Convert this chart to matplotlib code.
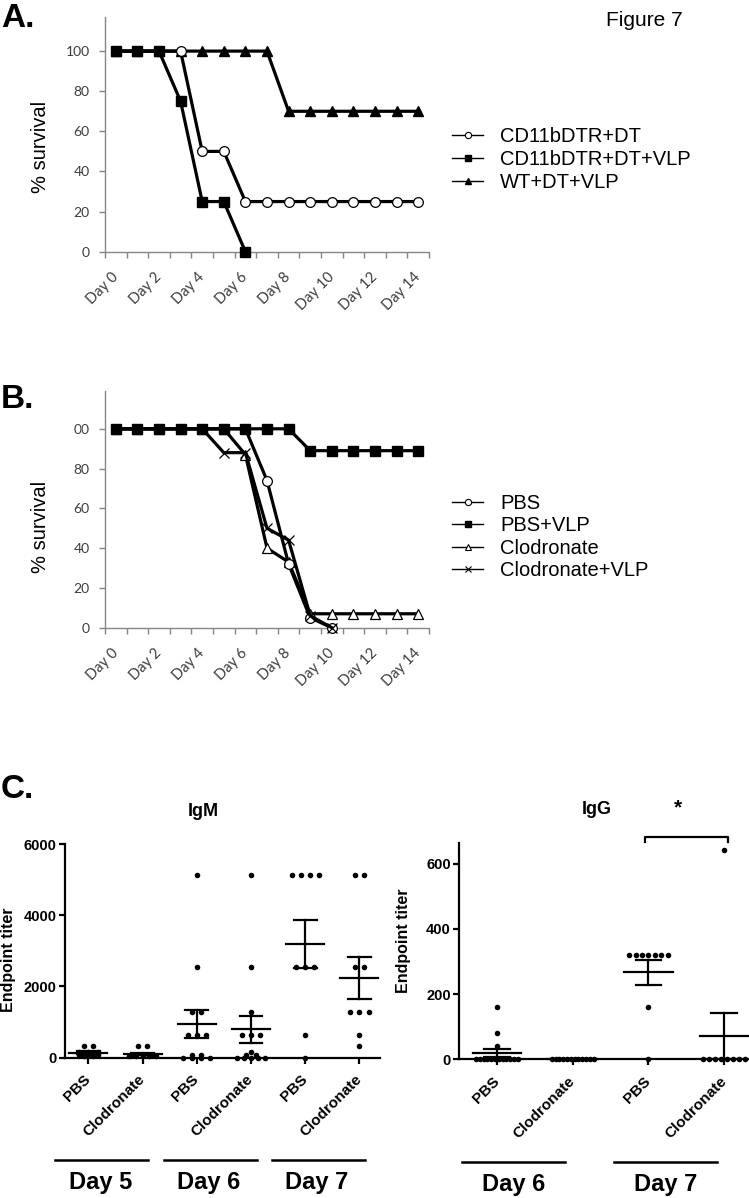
import numpy as np
import matplotlib
matplotlib.use("Agg")
import matplotlib.pyplot as plt
from matplotlib.lines import Line2D
from matplotlib.transforms import blended_transform_factory as blend

# ---------------- data ----------------
day_numbers = list(range(15))
day_tick_labels = ["Day 0", "Day 2", "Day 4", "Day 6", "Day 8", "Day 10", "Day 12", "Day 14"]

# Panel A (% survival)
a_cd11b_dt = [100, 100, 100, 100, 50, 50, 25, 25, 25, 25, 25, 25, 25, 25, 25]
a_cd11b_dt_vlp = [100, 100, 100, 75, 25, 25, 0]
a_wt_dt_vlp = [100, 100, 100, 100, 100, 100, 100, 100, 70, 70, 70, 70, 70, 70, 70]
a_labels = ["CD11bDTR+DT", "CD11bDTR+DT+VLP", "WT+DT+VLP"]

# Panel B (% survival)
b_pbs = [100, 100, 100, 100, 100, 100, 100, 74, 32, 5, 0]
b_pbs_vlp = [100, 100, 100, 100, 100, 100, 100, 100, 100, 89, 89, 89, 89, 89, 89]
b_clod = [100, 100, 100, 100, 100, 100, 87, 40, 33, 7, 7, 7, 7, 7, 7]
b_clod_vlp = [100, 100, 100, 100, 100, 88, 88, 50, 44, 6, 0]
b_labels = ["PBS", "PBS+VLP", "Clodronate", "Clodronate+VLP"]
b_ytick_labels = ["0", "20", "40", "60", "80", "00"]

# Panel C (endpoint titers)
igm_groups = ["PBS", "Clodronate", "PBS", "Clodronate", "PBS", "Clodronate"]
igm_days = ["Day 5", "Day 6", "Day 7"]
igm_d5_pbs = [320, 320, 160, 160, 160, 80, 80, 80, 40, 40]
igm_d5_clod = [320, 320, 80, 80, 80, 40, 40, 40, 40, 40]
igm_d6_pbs = [5120, 2560, 1280, 1280, 640, 640, 640, 80, 80, 0, 0, 0, 0]
igm_d6_clod = [5120, 2560, 1280, 640, 640, 640, 160, 80, 80, 0, 0, 0, 0, 0]
igm_d7_pbs = [5120, 5120, 5120, 5120, 2560, 2560, 2560, 640, 0]
igm_d7_clod = [5120, 5120, 2560, 2560, 1280, 1280, 1280, 640, 320]

igg_groups = ["PBS", "Clodronate", "PBS", "Clodronate"]
igg_days = ["Day 6", "Day 7"]
igg_d6_pbs = [160, 80, 40, 0, 0, 0, 0, 0, 0, 0, 0, 0, 0, 0, 0]
igg_d6_clod = [0, 0, 0, 0, 0, 0, 0, 0, 0, 0, 0, 0]
igg_d7_pbs = [320, 320, 320, 320, 320, 320, 320, 160, 0]
igg_d7_clod = [640, 0, 0, 0, 0, 0, 0, 0, 0]

# ---------------- figure ----------------
W, H = 749, 1198
fig = plt.figure(figsize=(W / 100, H / 100), dpi=100)


def fx(px):
    return px / W


def fy(py):
    return 1 - py / H


SANS = "Liberation Sans"
TICKF = "Lato"
GRAY = "#868686"
TXT = "#3c3c3c"


def survival_axes(rect, ymax, ytl):
    ax = fig.add_axes(rect)
    for s in ("top", "right"):
        ax.spines[s].set_visible(False)
    for s in ("left", "bottom"):
        ax.spines[s].set_color(GRAY)
        ax.spines[s].set_linewidth(1.0)
    ax.set_xlim(-0.5, 14.5)
    ax.set_ylim(0, ymax)
    ax.set_xticks(np.arange(-0.5, 15, 1))
    ax.set_xticklabels([])
    ax.tick_params(axis="x", which="major", length=4, width=1, color=GRAY, direction="out")
    ax.set_xticks(day_numbers[::2], day_tick_labels, minor=True)
    ax.tick_params(axis="x", which="minor", length=0, pad=17, labelsize=10.5,
                   labelcolor=TXT, labelrotation=45)
    for t in ax.get_xticklabels(minor=True):
        t.set_ha("right")
        t.set_va("center")
        t.set_rotation_mode("anchor")
        t.set_family(TICKF)
    ax.set_yticks([0, 20, 40, 60, 80, 100], ytl)
    ax.tick_params(axis="y", length=4, width=1, color=GRAY, pad=7, labelsize=10,
                   labelcolor=TXT)
    for t in ax.get_yticklabels():
        t.set_family(TICKF)
    ax.set_ylabel("% survival", fontsize=14.5, family=SANS)
    return ax


# ---- Panel A ----
axA = survival_axes([fx(105), fy(251.7), fx(429) - fx(105), fy(17) - fy(251.7)], 117,
                    ["0", "20", "40", "60", "80", "100"])
axA.yaxis.set_label_coords(-0.17, 0.446)
LW = 2.3
axA.plot(day_numbers[:len(a_wt_dt_vlp)], a_wt_dt_vlp, color="black", lw=LW, marker="^",
         ms=7.5, mfc="black", mec="black", clip_on=False, zorder=3)
axA.plot(day_numbers[:len(a_cd11b_dt)], a_cd11b_dt, color="black", lw=LW, marker="o",
         ms=7, mfc="white", mec="black", mew=0.9, clip_on=False, zorder=4)
axA.plot(day_numbers[:len(a_cd11b_dt_vlp)], a_cd11b_dt_vlp, color="black", lw=LW, marker="s",
         ms=6.5, mfc="black", mec="black", clip_on=False, zorder=5)
handlesA = [
    Line2D([], [], color="black", lw=1, marker="o", ms=4.5, mfc="white", mec="black", mew=0.8),
    Line2D([], [], color="black", lw=1, marker="s", ms=4.5, mfc="black", mec="black"),
    Line2D([], [], color="black", lw=1, marker="^", ms=5, mfc="black", mec="black"),
]
axA.legend(handlesA, a_labels, loc="center left", bbox_to_anchor=(fx(452), fy(159.5)),
           bbox_transform=fig.transFigure, frameon=False, prop={"family": SANS, "size": 14.5},
           handlelength=1.55, handletextpad=0.85, labelspacing=0.22, borderpad=0,
           borderaxespad=0)

# ---- Panel B ----
axB = survival_axes([fx(105), fy(627.7), fx(429) - fx(105), fy(391) - fy(627.7)], 119,
                    b_ytick_labels)
axB.yaxis.set_label_coords(-0.17, 0.427)
axB.plot(day_numbers[:len(b_clod)], b_clod, color="black", lw=LW, marker="^", ms=7,
         mfc="white", mec="black", mew=0.9, clip_on=False, zorder=3)
axB.plot(day_numbers[:len(b_pbs)], b_pbs, color="black", lw=LW, marker="o", ms=7,
         mfc="white", mec="black", mew=0.9, clip_on=False, zorder=4)
axB.plot(day_numbers[:len(b_clod_vlp)], b_clod_vlp, color="black", lw=LW, marker="x", ms=7,
         mec="black", mew=0.9, clip_on=False, zorder=5)
axB.plot(day_numbers[:len(b_pbs_vlp)], b_pbs_vlp, color="black", lw=LW, marker="s", ms=6.5,
         mfc="black", mec="black", clip_on=False, zorder=6)
handlesB = [
    Line2D([], [], color="black", lw=1, marker="o", ms=4.5, mfc="white", mec="black", mew=0.8),
    Line2D([], [], color="black", lw=1, marker="s", ms=4.5, mfc="black", mec="black"),
    Line2D([], [], color="black", lw=1, marker="^", ms=5, mfc="white", mec="black", mew=0.8),
    Line2D([], [], color="black", lw=1, marker="x", ms=5, mec="black", mew=0.8),
]
axB.legend(handlesB, b_labels, loc="center left", bbox_to_anchor=(fx(452), fy(537)),
           bbox_transform=fig.transFigure, frameon=False, prop={"family": SANS, "size": 14.5},
           handlelength=1.55, handletextpad=0.85, labelspacing=0.17, borderpad=0,
           borderaxespad=0)

# ---- Panel C ----
def spread(vals, center, step, maxw):
    vals = np.asarray(vals, dtype=float)
    xs = np.empty(len(vals))
    for v in np.unique(vals):
        idx = np.where(vals == v)[0]
        c = len(idx)
        st = step if c <= 1 else min(step, maxw / (c - 1))
        xs[idx] = center + (np.arange(c) - (c - 1) / 2) * st
    return xs


def titer_axes(rect, xlim, ymax, yticks, groups):
    ax = fig.add_axes(rect)
    for s in ("top", "right"):
        ax.spines[s].set_visible(False)
    for s in ("left", "bottom"):
        ax.spines[s].set_linewidth(1.6)
    ax.set_xlim(*xlim)
    ax.set_ylim(0, ymax)
    ax.set_yticks(yticks)
    ax.set_xticks(range(len(groups)), groups)
    ax.tick_params(axis="y", length=4, width=1.6, labelsize=10.5, pad=2)
    ax.tick_params(axis="x", length=4, width=1.6, labelsize=11, pad=10)
    for t in ax.get_yticklabels():
        t.set_family(SANS)
        t.set_weight("bold")
    for t in ax.get_xticklabels():
        t.set_family(SANS)
        t.set_weight("bold")
        t.set_rotation(45)
        t.set_ha("right")
        t.set_va("center")
        t.set_rotation_mode("anchor")
    ax.set_ylabel("Endpoint titer", family=SANS, weight="bold", fontsize=11.5)
    return ax


def draw_group(ax, vals, c, step, maxw, mhw, chw):
    xs = spread(vals, c, step, maxw)
    ax.scatter(xs, vals, s=16, color="black", clip_on=False, zorder=3, linewidths=0)
    v = np.asarray(vals, dtype=float)
    m = v.mean()
    se = v.std(ddof=1) / np.sqrt(len(v))
    kw = dict(color="black", lw=1.6, zorder=4, clip_on=False)
    ax.plot([c - mhw, c + mhw], [m, m], **kw)
    ax.plot([c, c], [m - se, m + se], **kw)
    ax.plot([c - chw, c + chw], [m + se, m + se], **kw)
    ax.plot([c - chw, c + chw], [m - se, m - se], **kw)


# IgM
axM = titer_axes([fx(65), fy(1057.7), fx(380) - fx(65), fy(844) - fy(1057.7)], (-0.43, 5.38),
                 6000, [0, 2000, 4000, 6000], igm_groups)
axM.yaxis.set_label_coords(-0.155, 0.457)
for i, vals in enumerate([igm_d5_pbs, igm_d5_clod, igm_d6_pbs, igm_d6_clod, igm_d7_pbs, igm_d7_clod]):
    draw_group(axM, vals, i, 0.17, 0.5, 0.35, 0.21)
trM = blend(axM.transData, fig.transFigure)
axM.text(2.12, fy(811.7), "IgM", transform=trM, ha="center", va="center", family=SANS,
         weight="bold", fontsize=13)
for k, lab in enumerate(igm_days):
    cx = 2 * k + 0.5 - 0.25
    axM.plot([cx - 0.86, cx + 0.86], [fy(1160), fy(1160)], transform=trM, color="black",
             lw=1.8, clip_on=False)
    axM.text(cx - 0.03, fy(1182), lab, transform=trM, ha="center", va="center", family=SANS,
             weight="bold", fontsize=17)

# IgG
axG = titer_axes([fx(459), fy(1059.3), 291.8 / W, fy(843.3) - fy(1059.3)], (-0.5, 3.35),
                 662, [0, 200, 400, 600], igg_groups)
axG.yaxis.set_label_coords(-0.165, 0.55)
for i, vals in enumerate([igg_d6_pbs, igg_d6_clod, igg_d7_pbs, igg_d7_clod]):
    draw_group(axG, vals, i, 0.085, 0.55, 0.32, 0.17)
trG = blend(axG.transData, fig.transFigure)
axG.text(1.32, fy(810), "IgG", transform=trG, ha="center", va="center", family=SANS,
         weight="bold", fontsize=13)
axG.plot([1.96, 1.96, 3.05, 3.05], [666, 681, 681, 666], color="black", lw=1.6, clip_on=False)
axG.text(2.39, fy(808), "*", transform=trG, ha="center", va="center", family=SANS,
         weight="bold", fontsize=15)
for k, lab in enumerate(igg_days):
    cx = 2 * k + 0.5 - 0.28
    axG.plot([cx - 0.68, cx + 0.68], [fy(1162.3), fy(1162.3)], transform=trG, color="black",
             lw=1.8, clip_on=False)
    axG.text(cx, fy(1185), lab, transform=trG, ha="center", va="center", family=SANS,
             weight="bold", fontsize=17)

# Panel letters and figure label
for lab, base in (("A.", 27), ("B.", 408), ("C.", 798)):
    fig.text(fx(1), fy(base), lab, family=SANS, weight="bold", fontsize=24, va="baseline",
             ha="left")
fig.text(fx(644), fy(21), "Figure 7", family=SANS, fontsize=15, ha="center", va="center")

fig.savefig("out.png", dpi=100)
